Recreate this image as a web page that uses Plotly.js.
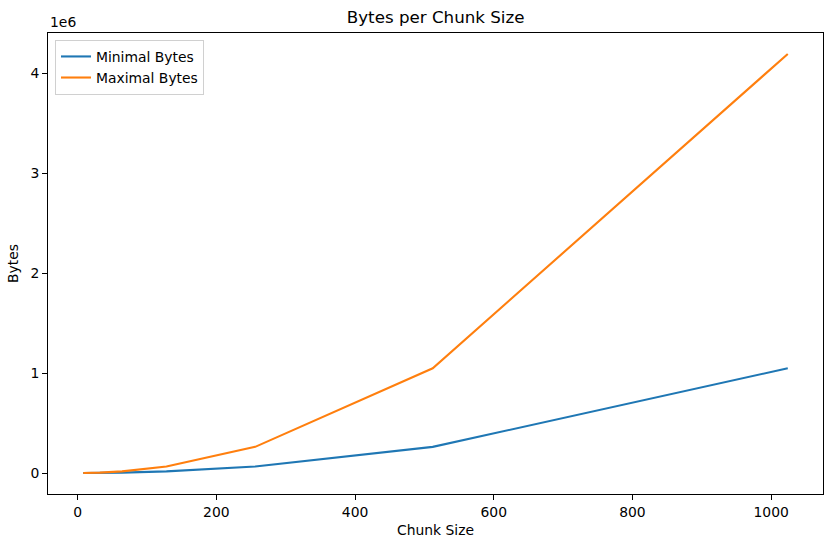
<!DOCTYPE html>
<html>
<head>
<meta charset="utf-8">
<script src="https://cdn.plot.ly/plotly-3.0.1.min.js"></script>
<style>
  html, body { margin: 0; padding: 0; background: #fff; }
  #plot { width: 833px; height: 547px; }
</style>
</head>
<body>
<div id="plot"></div>
<script>
"use strict";

// Chunk sizes and the byte counts
const chunkSizes   = [8, 16, 32, 64, 128, 256, 512, 1024];
const minimalBytes = [64, 256, 1024, 4096, 16384, 65536, 262144, 1048576];
const maximalBytes = [256, 1024, 4096, 16384, 65536, 262144, 1048576, 4194304];

const yTickVals = [0, 1e6, 2e6, 3e6, 4e6];
const yTickText = ["0", "1", "2", "3", "4"];
const xTickVals = [0, 200, 400, 600, 800, 1000];

const FONT = "DejaVu Sans, sans-serif";

const traces = [
    { type: "scatter", mode: "lines", x: chunkSizes, y: minimalBytes,
      name: "Minimal Bytes", line: { color: "#1f77b4", width: 2.1 } },
    { type: "scatter", mode: "lines", x: chunkSizes, y: maximalBytes,
      name: "Maximal Bytes", line: { color: "#ff7f0e", width: 2.1 } },
];

// matplotlib-style 5% margins around the data
const xMin = Math.min(...chunkSizes), xMax = Math.max(...chunkSizes);
const yMin = Math.min(...minimalBytes), yMax = Math.max(...maximalBytes);
const xPad = 0.05 * (xMax - xMin), yPad = 0.05 * (yMax - yMin);

const axisCommon = {
    showline: true, mirror: true, linecolor: "#000", linewidth: 1,
    ticks: "outside", ticklen: 5, tickwidth: 1, tickcolor: "#000",
    showgrid: false, zeroline: false,
    tickfont: { family: FONT, size: 13.9, color: "#000" },
};

const layout = {
    width: 833, height: 547,
    paper_bgcolor: "#fff", plot_bgcolor: "#fff",
    margin: { l: 48, r: 10, t: 33, b: 53 },
    font: { family: FONT, color: "#000" },
    title: { text: "Bytes per Chunk Size", x: 0.523, xanchor: "center",
             y: 0.968, yanchor: "middle",
             font: { family: FONT, size: 16.7, color: "#000" } },
    xaxis: Object.assign({}, axisCommon, {
        range: [xMin - xPad, xMax + xPad],
        tickvals: xTickVals,
        title: { text: "Chunk Size", standoff: 6,
                 font: { family: FONT, size: 13.9, color: "#000" } },
    }),
    yaxis: Object.assign({}, axisCommon, {
        range: [yMin - yPad, yMax + yPad],
        tickvals: yTickVals, ticktext: yTickText,
        title: { text: "Bytes", standoff: 8,
                 font: { family: FONT, size: 13.9, color: "#000" } },
    }),
    showlegend: true,
    legend: {
        x: 0.009, y: 0.985, xanchor: "left", yanchor: "top",
        bgcolor: "rgba(255,255,255,0.8)", bordercolor: "#d0d0d0", borderwidth: 1,
        font: { family: FONT, size: 13.9, color: "#000" },
        tracegroupgap: 0,
    },
    annotations: [
        { text: "1e6", xref: "paper", yref: "paper", x: 0, y: 1,
          xanchor: "left", yanchor: "bottom", showarrow: false, yshift: 1,
          font: { family: FONT, size: 13.9, color: "#000" } },
    ],
};

Plotly.newPlot("plot", traces, layout, { displayModeBar: false, staticPlot: true });
</script>
</body>
</html>
